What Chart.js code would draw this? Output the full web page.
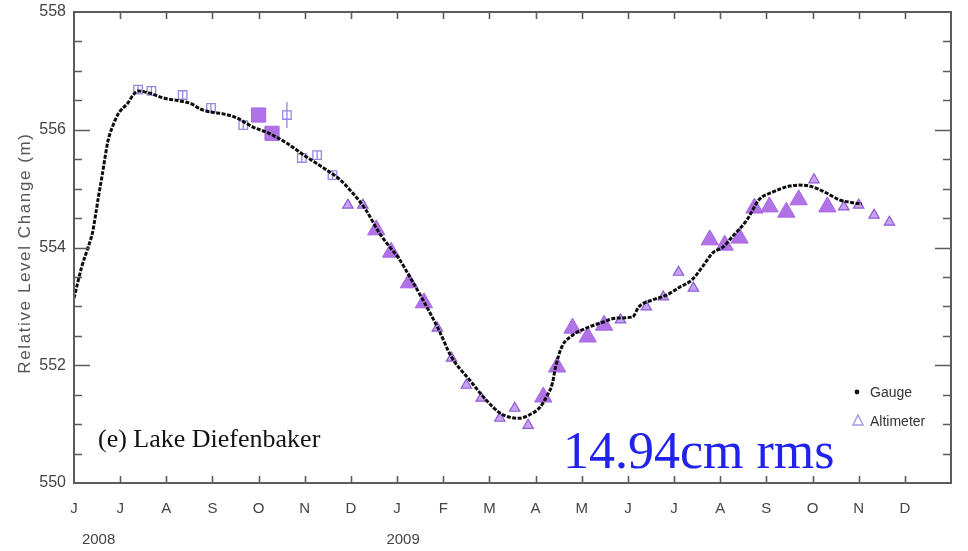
<!DOCTYPE html>
<html>
<head>
<meta charset="utf-8">
<title>Lake Diefenbaker level</title>
<script src="https://cdn.jsdelivr.net/npm/chart.js@4.4.1/dist/chart.umd.min.js"></script>
<style>
  html, body { margin: 0; padding: 0; background: #ffffff; }
  #wrap { position: relative; width: 968px; height: 551px; }
</style>
</head>
<body>
<div id="wrap"><canvas id="c" width="968" height="551"></canvas></div>
<script>
// ---- axis labels ----
const monthLabels = ['J','J','A','S','O','N','D','J','F','M','A','M','J','J','A','S','O','N','D',''];
const yearLabels = ['2008', '2009'];
const yearLabelDates = ['2008-06-17', '2009-01-05'];

// ---- gauge record (m) ----
const gaugeDates = [
  '2008-06-01','2008-06-06','2008-06-10','2008-06-13','2008-06-15','2008-06-17','2008-06-19','2008-06-21',
  '2008-06-23','2008-06-26','2008-06-30','2008-07-06','2008-07-10','2008-07-13','2008-07-21','2008-07-30',
  '2008-08-10','2008-08-17','2008-08-24','2008-08-31','2008-09-08','2008-09-17','2008-09-23','2008-09-27',
  '2008-10-08','2008-10-20','2008-11-02','2008-11-15','2008-11-24','2008-12-02','2008-12-11','2008-12-20',
  '2008-12-27','2009-01-02','2009-01-10','2009-01-19','2009-01-29','2009-02-06','2009-02-17','2009-02-27',
  '2009-03-08','2009-03-14','2009-03-21','2009-03-28','2009-04-04','2009-04-08','2009-04-12','2009-04-14',
  '2009-04-18','2009-04-25','2009-05-04','2009-05-15','2009-05-24','2009-06-04','2009-06-08','2009-06-17',
  '2009-06-26','2009-07-05','2009-07-13','2009-07-20','2009-07-27','2009-08-03','2009-08-09','2009-08-19',
  '2009-08-27','2009-09-05','2009-09-14','2009-09-22','2009-10-01','2009-10-10','2009-10-19','2009-10-28',
  '2009-11-03'
];
const gaugeLevels = [
  553.14, 553.67, 553.99, 554.25, 554.55, 554.88, 555.18, 555.50,
  555.80, 556.05, 556.28, 556.45, 556.60, 556.66, 556.62, 556.54,
  556.49, 556.45, 556.35, 556.30, 556.27, 556.20, 556.11, 556.05,
  555.94, 555.77, 555.54, 555.32, 555.15, 554.93, 554.64, 554.25,
  554.01, 553.82, 553.48, 553.08, 552.60, 552.14, 551.75, 551.41,
  551.19, 551.12, 551.10, 551.16, 551.29, 551.46, 551.70, 551.97,
  552.31, 552.51, 552.63, 552.73, 552.80, 552.82, 552.99, 553.11,
  553.19, 553.33, 553.45, 553.67, 553.91, 554.01, 554.18, 554.47,
  554.81, 554.94, 555.03, 555.06, 555.03, 554.93, 554.81, 554.76,
  554.74
];

// ---- altimeter passes (m) ----
// open squares with error bars
const altOpenDates  = ['2008-07-13','2008-07-22','2008-08-12','2008-08-31','2008-09-21','2008-10-20','2008-10-30','2008-11-09','2008-11-19'];
const altOpenLevels = [556.68, 556.66, 556.59, 556.37, 556.08, 556.25, 555.52, 555.57, 555.23];
const altOpenErrors = [0.07, 0.07, 0.07, 0.07, 0.07, 0.22, 0.07, 0.07, 0.07];
// filled squares
const altFilledSqDates  = ['2008-10-01','2008-10-10'];
const altFilledSqLevels = [556.25, 555.94];
// large triangles
const altLargeDates = ['2008-12-18','2008-12-28','2009-01-09','2009-01-19','2009-04-06','2009-04-15','2009-04-25','2009-05-05',
  '2009-05-16','2009-07-25','2009-08-04','2009-08-14','2009-08-24','2009-09-03','2009-09-14','2009-09-22','2009-10-11'];
const altLargeLevels = [554.30, 553.92, 553.40, 553.06, 551.46, 551.97, 552.63, 552.48,
  552.68, 554.13, 554.04, 554.16, 554.67, 554.69, 554.60, 554.81, 554.69];
// small triangles
const altSmallDates = ['2008-11-29','2008-12-09','2009-01-28','2009-02-06','2009-02-15','2009-02-24','2009-03-08','2009-03-18',
  '2009-03-27','2009-05-27','2009-06-13','2009-06-24','2009-07-04','2009-07-14','2009-10-02','2009-10-22',
  '2009-11-01','2009-11-11','2009-11-21'];
const altSmallLevels = [554.72, 554.72, 552.63, 552.12, 551.66, 551.44, 551.10, 551.27,
  550.98, 552.77, 552.99, 553.16, 553.58, 553.31, 555.15, 554.69,
  554.72, 554.55, 554.43];

// Position along the time axis in months counted from 1 June 2008
function monthPos(s) {
  const [yy, mm, dd] = s.split('-').map(Number);
  const dim = new Date(yy, mm, 0).getDate();
  return (yy - 2008) * 12 + (mm - 6) + (dd - 1) / dim;
}
function pts(dates, vals) {
  return dates.map((d, i) => ({ x: monthPos(d), y: vals[i] }));
}

const PURPLE = '#b072e6';
const SANS = '"Liberation Sans", Arial, sans-serif';
const SERIF = '"Liberation Serif", "Times New Roman", serif';

// Box frame with inward ticks, error bars and the text annotations
const decorPlugin = {
  id: 'decor',
  beforeDatasetsDraw(chart) {
    const { ctx, scales: { x, y } } = chart;
    ctx.save();
    ctx.strokeStyle = '#9a86e0';
    ctx.lineWidth = 1.3;
    altOpenDates.forEach((d, i) => {
      const px = x.getPixelForValue(monthPos(d));
      ctx.beginPath();
      ctx.moveTo(px, y.getPixelForValue(altOpenLevels[i] - altOpenErrors[i]));
      ctx.lineTo(px, y.getPixelForValue(altOpenLevels[i] + altOpenErrors[i]));
      ctx.stroke();
    });
    ctx.restore();
  },
  afterDatasetsDraw(chart) {
    const { ctx, chartArea: a, scales: { x, y } } = chart;
    ctx.save();
    ctx.strokeStyle = '#5c5c5c';
    ctx.lineWidth = 2;
    ctx.strokeRect(a.left, a.top, a.width, a.height);

    ctx.lineWidth = 1.6;
    ctx.beginPath();
    for (let m = 1; m < monthLabels.length - 1; m++) {
      const px = Math.round(x.getPixelForValue(m)) + 0.5;
      ctx.moveTo(px, a.bottom); ctx.lineTo(px, a.bottom - 7);
      ctx.moveTo(px, a.top); ctx.lineTo(px, a.top + 7);
    }
    for (let v = y.min + 0.5; v < y.max; v += 0.5) {
      const py = Math.round(y.getPixelForValue(v)) + 0.5;
      const len = (Math.abs(v % 2) < 1e-6) ? 16 : 8;
      ctx.moveTo(a.left, py); ctx.lineTo(a.left + len, py);
      ctx.moveTo(a.right, py); ctx.lineTo(a.right - len, py);
    }
    ctx.stroke();

    // year labels under the month ticks
    ctx.fillStyle = '#444';
    ctx.font = '15px ' + SANS;
    ctx.textAlign = 'center';
    ctx.textBaseline = 'middle';
    yearLabels.forEach((t, i) => {
      ctx.fillText(t, x.getPixelForValue(monthPos(yearLabelDates[i])), 540);
    });

    // vertical axis title
    ctx.save();
    ctx.translate(25, 253);
    ctx.rotate(-Math.PI / 2);
    ctx.font = '17px ' + SANS;
    ctx.letterSpacing = '1.6px';
    ctx.fillStyle = '#555';
    ctx.fillText('Relative Level Change (m)', 0, 0);
    ctx.restore();

    // legend
    ctx.fillStyle = '#111';
    ctx.beginPath();
    ctx.arc(857, 392, 2.4, 0, Math.PI * 2);
    ctx.fill();
    ctx.strokeStyle = '#a59ce0';
    ctx.lineWidth = 1.5;
    ctx.beginPath();
    ctx.moveTo(858, 415); ctx.lineTo(853, 425); ctx.lineTo(863, 425); ctx.closePath();
    ctx.stroke();
    ctx.fillStyle = '#333';
    ctx.font = '14px ' + SANS;
    ctx.textAlign = 'left';
    ctx.fillText('Gauge', 870, 393);
    ctx.fillText('Altimeter', 870, 422);

    // panel title and fit statistic
    ctx.textBaseline = 'alphabetic';
    ctx.fillStyle = '#111';
    ctx.font = '26px ' + SERIF;
    ctx.fillText('(e) Lake Diefenbaker', 98, 447);
    ctx.fillStyle = '#2222ee';
    ctx.font = '52px ' + SERIF;
    ctx.fillText('14.94cm rms', 563, 468);
    ctx.restore();
  }
};

new Chart(document.getElementById('c'), {
  type: 'scatter',
  data: {
    datasets: [
      {
        label: 'Gauge',
        data: pts(gaugeDates, gaugeLevels),
        showLine: true,
        borderColor: '#0d0d0d',
        borderWidth: 3,
        borderDash: [4, 1.5],
        cubicInterpolationMode: 'monotone',
        pointRadius: 0,
        order: 0
      },
      {
        label: 'Altimeter',
        data: pts(altLargeDates, altLargeLevels),
        pointStyle: 'triangle',
        pointRadius: 10,
        backgroundColor: PURPLE,
        borderColor: '#a866e0',
        borderWidth: 1,
        order: 1
      },
      {
        label: 'Altimeter (low weight)',
        data: pts(altSmallDates, altSmallLevels),
        pointStyle: 'triangle',
        pointRadius: 6,
        backgroundColor: 'rgba(182,132,236,0.75)',
        borderColor: '#8e5ad4',
        borderWidth: 1.2,
        order: 2
      },
      {
        label: 'Altimeter (early, filled)',
        data: pts(altFilledSqDates, altFilledSqLevels),
        pointStyle: 'rect',
        pointRadius: 10,
        backgroundColor: PURPLE,
        borderColor: '#a866e0',
        borderWidth: 1,
        order: 3
      },
      {
        label: 'Altimeter (early)',
        data: pts(altOpenDates, altOpenLevels),
        pointStyle: 'rect',
        pointRadius: 6,
        backgroundColor: 'rgba(255,255,255,0)',
        borderColor: '#9a86e0',
        borderWidth: 1.3,
        order: 4
      }
    ]
  },
  options: {
    responsive: false,
    animation: false,
    devicePixelRatio: 1,
    layout: { padding: { top: 12, right: 17, left: 0, bottom: 0 } },
    plugins: { legend: { display: false }, tooltip: { enabled: false } },
    scales: {
      x: {
        type: 'linear',
        min: 0,
        max: monthLabels.length - 1,
        grid: { display: false },
        border: { display: false },
        ticks: {
          stepSize: 1,
          autoSkip: false,
          maxRotation: 0,
          padding: 9,
          color: '#444',
          font: { family: SANS, size: 15 },
          callback: (v) => monthLabels[v] ?? ''
        },
        afterFit: (s) => { s.height = 68; }
      },
      y: {
        min: 550,
        max: 558,
        grid: { display: false },
        border: { display: false },
        ticks: {
          stepSize: 2,
          padding: 0,
          color: '#444',
          font: { family: SANS, size: 16 }
        },
        afterFit: (s) => { s.width = 74; }
      }
    }
  },
  plugins: [decorPlugin]
});
</script>
</body>
</html>
